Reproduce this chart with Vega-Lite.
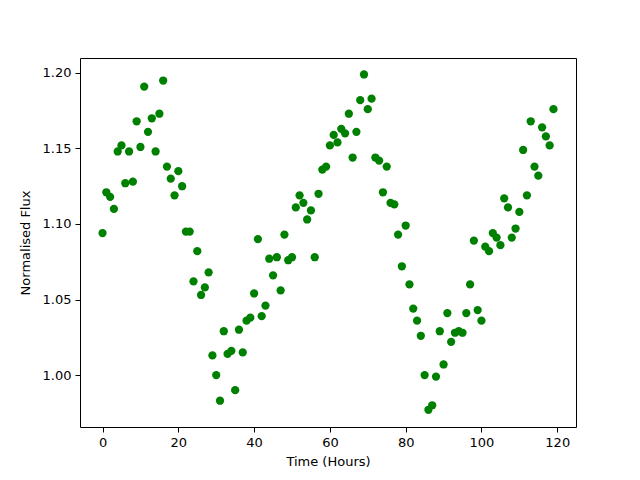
{
  "$schema": "https://vega.github.io/schema/vega-lite/v6.json",
  "width": 496,
  "height": 369,
  "autosize": {"type": "none"},
  "padding": {"left": 80, "top": 58, "right": 64, "bottom": 53},
  "background": "white",
  "config": {
    "view": {"stroke": "black", "strokeWidth": 1},
    "font": "DejaVu Sans",
    "axis": {
      "grid": false,
      "domain": false,
      "tickColor": "black",
      "tickSize": 5,
      "tickWidth": 1,
      "labelColor": "black",
      "labelFont": "DejaVu Sans",
      "labelFontSize": 13,
      "labelPadding": 4,
      "titleFont": "DejaVu Sans",
      "titleFontSize": 13,
      "titleFontWeight": "normal",
      "titleColor": "black"
    }
  },
  "data": {
    "values": [
      {"t":0,"f":1.094},{"t":1,"f":1.121},{"t":2,"f":1.118},{"t":3,"f":1.110},{"t":4,"f":1.148},
      {"t":5,"f":1.152},{"t":6,"f":1.127},{"t":7,"f":1.148},{"t":8,"f":1.128},{"t":9,"f":1.168},
      {"t":10,"f":1.151},{"t":11,"f":1.191},{"t":12,"f":1.161},{"t":13,"f":1.170},{"t":14,"f":1.148},
      {"t":15,"f":1.173},{"t":16,"f":1.195},{"t":17,"f":1.138},{"t":18,"f":1.130},{"t":19,"f":1.119},
      {"t":20,"f":1.135},{"t":21,"f":1.125},{"t":22,"f":1.095},{"t":23,"f":1.095},{"t":24,"f":1.062},
      {"t":25,"f":1.082},{"t":26,"f":1.053},{"t":27,"f":1.058},{"t":28,"f":1.068},{"t":29,"f":1.013},
      {"t":30,"f":1.000},{"t":31,"f":0.983},{"t":32,"f":1.029},{"t":33,"f":1.014},{"t":34,"f":1.016},
      {"t":35,"f":0.990},{"t":36,"f":1.030},{"t":37,"f":1.015},{"t":38,"f":1.036},{"t":39,"f":1.038},
      {"t":40,"f":1.054},{"t":41,"f":1.090},{"t":42,"f":1.039},{"t":43,"f":1.046},{"t":44,"f":1.077},
      {"t":45,"f":1.066},{"t":46,"f":1.078},{"t":47,"f":1.056},{"t":48,"f":1.093},{"t":49,"f":1.076},
      {"t":50,"f":1.078},{"t":51,"f":1.111},{"t":52,"f":1.119},{"t":53,"f":1.114},{"t":54,"f":1.103},
      {"t":55,"f":1.109},{"t":56,"f":1.078},{"t":57,"f":1.120},{"t":58,"f":1.136},{"t":59,"f":1.138},
      {"t":60,"f":1.152},{"t":61,"f":1.159},{"t":62,"f":1.154},{"t":63,"f":1.163},{"t":64,"f":1.160},
      {"t":65,"f":1.173},{"t":66,"f":1.144},{"t":67,"f":1.161},{"t":68,"f":1.182},{"t":69,"f":1.199},
      {"t":70,"f":1.176},{"t":71,"f":1.183},{"t":72,"f":1.144},{"t":73,"f":1.142},{"t":74,"f":1.121},
      {"t":75,"f":1.138},{"t":76,"f":1.114},{"t":77,"f":1.113},{"t":78,"f":1.093},{"t":79,"f":1.072},
      {"t":80,"f":1.099},{"t":81,"f":1.060},{"t":82,"f":1.044},{"t":83,"f":1.036},{"t":84,"f":1.026},
      {"t":85,"f":1.000},{"t":86,"f":0.977},{"t":87,"f":0.980},{"t":88,"f":0.999},{"t":89,"f":1.029},
      {"t":90,"f":1.007},{"t":91,"f":1.041},{"t":92,"f":1.022},{"t":93,"f":1.028},{"t":94,"f":1.029},
      {"t":95,"f":1.028},{"t":96,"f":1.041},{"t":97,"f":1.060},{"t":98,"f":1.089},{"t":99,"f":1.043},
      {"t":100,"f":1.036},{"t":101,"f":1.085},{"t":102,"f":1.082},{"t":103,"f":1.094},{"t":104,"f":1.091},
      {"t":105,"f":1.086},{"t":106,"f":1.117},{"t":107,"f":1.111},{"t":108,"f":1.091},{"t":109,"f":1.097},
      {"t":110,"f":1.108},{"t":111,"f":1.149},{"t":112,"f":1.119},{"t":113,"f":1.168},{"t":114,"f":1.138},
      {"t":115,"f":1.132},{"t":116,"f":1.164},{"t":117,"f":1.158},{"t":118,"f":1.152},{"t":119,"f":1.176}
    ]
  },
  "mark": {"type": "point", "filled": true, "shape": "circle", "size": 68, "color": "#008000", "opacity": 1},
  "encoding": {
    "x": {
      "field": "t", "type": "quantitative",
      "scale": {"domain": [-5.95, 124.95], "nice": false, "zero": false},
      "axis": {"title": "Time (Hours)", "values": [0, 20, 40, 60, 80, 100, 120], "titlePadding": 6}
    },
    "y": {
      "field": "f", "type": "quantitative",
      "scale": {"domain": [0.9656, 1.2099], "nice": false, "zero": false},
      "axis": {"title": "Normalised Flux", "values": [1.0, 1.05, 1.1, 1.15, 1.2], "format": ".2f", "titlePadding": 10}
    }
  }
}
